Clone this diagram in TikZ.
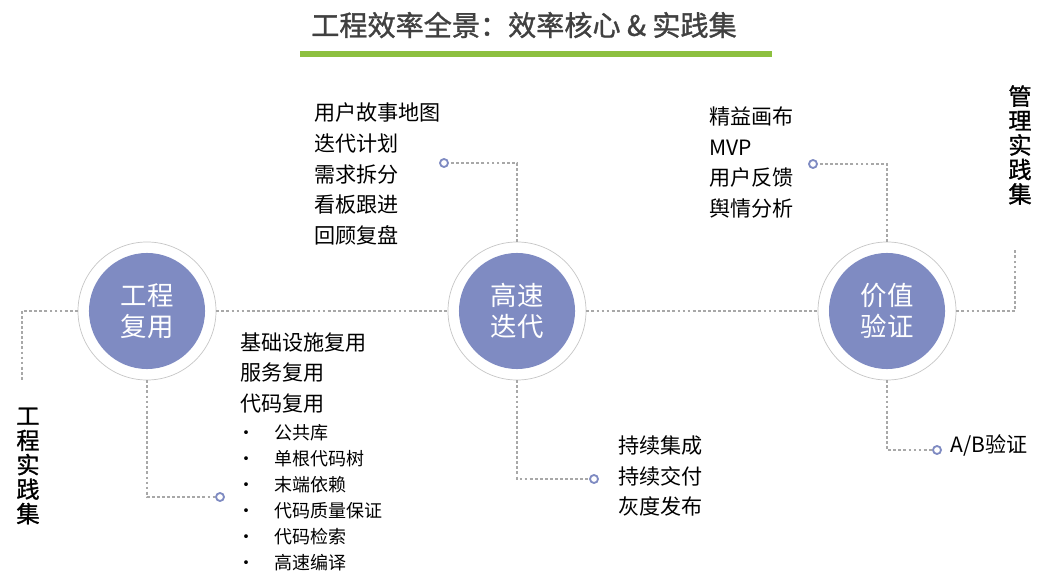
\documentclass[tikz,border=0pt]{standalone}
\usepackage{fontspec}
\setmainfont{Noto Sans CJK SC}
\newfontfamily\heavycjk{Noto Sans CJK SC}[FakeBold=1.2]
\usetikzlibrary{positioning}

\definecolor{corepurple}{RGB}{127,139,194}
\definecolor{linkgray}{RGB}{168,168,168}
\definecolor{titlegreen}{RGB}{141,192,63}
\definecolor{titlegray}{RGB}{64,64,64}

\tikzset{
  ring/.style={circle, draw=gray!45, line width=0.5pt, fill=white, minimum size=3.45cm, inner sep=0pt},
  core/.style={circle, fill=corepurple, minimum size=2.9cm, inner sep=0pt, text=white,
    align=center, font=\fontsize{18.8}{22}\selectfont},
  link/.style={linkgray, line width=2pt, dash pattern=on 2pt off 1.6pt},
  pin/.style={circle, draw=corepurple, fill=white, line width=1.3pt, minimum size=0.2cm, inner sep=0pt},
  items/.style={anchor=west, inner sep=0pt, align=left, font=\fontsize{15}{22}\selectfont},
  subitems/.style={anchor=west, inner sep=0pt, align=left, font=\fontsize{12.8}{18.5}\selectfont},
  sidetitle/.style={inner sep=0pt, align=center, font=\fontsize{16.5}{17.4}\selectfont\heavycjk}
}

\newcommand{\bul}[1]{\makebox[0.93cm][l]{\textbullet}#1}

\begin{document}
\begin{tikzpicture}[x=0.025cm, y=-0.025cm]
    \useasboundingbox (0,0) rectangle (1044,582);

    % Title
    \node[text=titlegray, font=\fontsize{20}{22}\selectfont\heavycjk] (title) at (524,25)
        {工程效率全景：效率核心 \& 实践集};
    \fill[titlegreen] (300,51) rectangle (772,57);

    % Three cores
    \node[ring] (eng) at (147,311) {};
    \node[core] (engcore) at (eng) {工程\\复用};
    \node[ring] (iter) at (517,311) {};
    \node[core] (itercore) at (iter) {高速\\迭代};
    \node[ring] (value) at (887,311) {};
    \node[core] (valuecore) at (value) {价值\\验证};

    % Main line
    \coordinate (leftend) at (22,381);
    \coordinate (rightend) at (1015,250);
    \draw[link] (eng) -| (leftend);
    \draw[link] (eng) -- (iter);
    \draw[link] (iter) -- (value);
    \draw[link] (value) -| (rightend);

    % Branch pins
    \node[pin] (engpin) at (220,497) {};
    \node[pin] (planpin) at (444,163) {};
    \node[pin] (deliverpin) at (594,479) {};
    \node[pin] (leanpin) at (813,164) {};
    \node[pin] (abpin) at (937,450) {};

    \draw[link] (eng.south) |- (engpin);
    \draw[link] (iter.north) |- (planpin);
    \draw[link] (iter.south) |- (deliverpin);
    \draw[link] (value.north) |- (leanpin);
    \draw[link] (value.south) |- (abpin);

    % Practice lists
    \node[items] (planlist) at (314,174) {用户故事地图\\迭代计划\\需求拆分\\看板跟进\\回顾复盘};
    \node[items] (leanlist) at (709,162.5) {精益画布\\MVP\\用户反馈\\舆情分析};
    \node[items] (reuselist) at (240,373) {基础设施复用\\服务复用\\代码复用};
    \node[subitems] (codelist) at (237,498)
        {\bul{公共库}\\\bul{单根代码树}\\\bul{末端依赖}\\\bul{代码质量保证}\\\bul{代码检索}\\\bul{高速编译}};
    \node[items] (deliverlist) at (618,476) {持续集成\\持续交付\\灰度发布};
    \node[items] (ablist) at (950,445) {A/B验证};

    % Side titles
    \node[sidetitle] (engside) at (28,466) {工\\程\\实\\践\\集};
    \node[sidetitle] (mgmtside) at (1020,145) {管\\理\\实\\践\\集};
\end{tikzpicture}
\end{document}
